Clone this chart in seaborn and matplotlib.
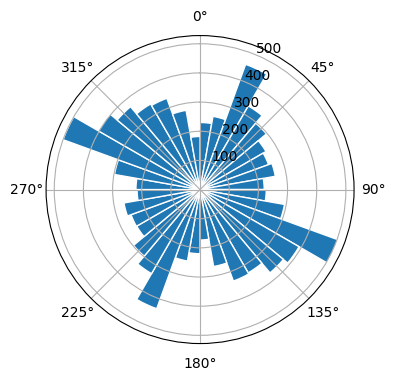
import numpy as np
import seaborn as sns
import matplotlib
matplotlib.use("Agg")
import matplotlib.pyplot as plt

# 10-degree direction bins, clockwise from north (left bin edges, degrees)
bin_starts = list(range(0, 360, 10))
bin_width = 10

# counts per bin
counts = [230, 255, 457, 331, 297, 261, 250, 262, 220,
          227, 294, 503, 392, 373, 330, 334, 268, 173,
          220, 249, 435, 333, 298, 251, 252, 265, 216,
          220, 298, 500, 402, 371, 339, 333, 276, 182]

color = sns.color_palette()[0]

fig = plt.figure(figsize=(4, 4))
ax = fig.add_subplot(projection="polar")
ax.set_theta_zero_location("N")
ax.set_theta_direction(-1)

ax.bar(np.deg2rad(bin_starts), counts, width=np.deg2rad(bin_width),
       align="edge", color=color, edgecolor="white", linewidth=1)

ax.set_rticks([100, 200, 300, 400, 500])

plt.savefig("out.png", dpi=100, bbox_inches="tight")
